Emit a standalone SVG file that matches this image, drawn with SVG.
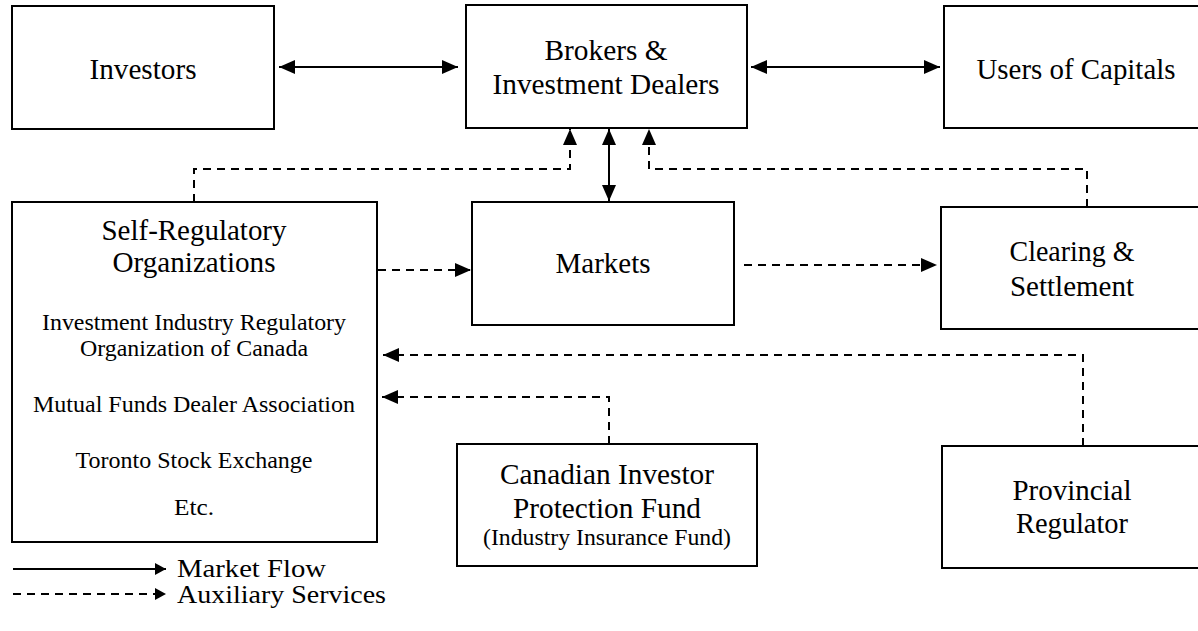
<svg xmlns="http://www.w3.org/2000/svg" width="1198" height="631" viewBox="0 0 1198 631">
  <style>
    .box { fill: #fff; stroke: #000; stroke-width: 2; }
    text { font-family: "Liberation Serif", "DejaVu Serif", "Times New Roman", serif; fill: #000; }
    .lbl { font-size: 29px; text-anchor: middle; }
    .sm { font-size: 24px; }
    .leg { font-size: 25px; }
    .flow { fill: none; stroke: #000; stroke-width: 2; }
    .aux { fill: none; stroke: #000; stroke-width: 2; stroke-dasharray: 8 6; }
  </style>
  <defs>
    <marker id="head" viewBox="0 0 16 14" refX="16" refY="7" markerWidth="16" markerHeight="14" markerUnits="userSpaceOnUse" orient="auto-start-reverse">
      <path d="M0,0 L16,7 L0,14 z" fill="#000"/>
    </marker>
    <marker id="headSmall" viewBox="0 0 11 12" refX="11" refY="6" markerWidth="11" markerHeight="12" markerUnits="userSpaceOnUse" orient="auto">
      <path d="M0,0 L11,6 L0,12 z" fill="#000"/>
    </marker>
  </defs>

  <rect width="1198" height="631" fill="#fff"/>

  <!-- connectors -->
  <g id="connectors">
    <line class="flow" x1="279" y1="67" x2="458" y2="67" marker-start="url(#head)" marker-end="url(#head)"/>
    <line class="flow" x1="751" y1="67" x2="940" y2="67" marker-start="url(#head)" marker-end="url(#head)"/>
    <line class="flow" x1="609" y1="129" x2="609" y2="201" marker-start="url(#head)" marker-end="url(#head)"/>
    <polyline class="aux" points="194,202 194,169 570,169 570,129" marker-end="url(#head)"/>
    <polyline class="aux" points="1087,207 1087,169 649,169 649,129" marker-end="url(#head)"/>
    <line class="aux" x1="378" y1="270" x2="471" y2="270" marker-end="url(#head)"/>
    <line class="aux" x1="744" y1="265" x2="937" y2="265" marker-end="url(#head)"/>
    <polyline class="aux" points="1083,446 1083,355 383,355" marker-end="url(#head)"/>
    <polyline class="aux" points="609,444 609,397 382,397" marker-end="url(#head)"/>
  </g>

  <g id="investors">
    <rect class="box" x="12" y="6" width="262" height="123"/>
    <text class="lbl" x="143" y="79" textLength="107" lengthAdjust="spacingAndGlyphs">Investors</text>
  </g>

  <g id="brokers">
    <rect class="box" x="466" y="5" width="281" height="123"/>
    <text class="lbl" x="606" y="60" textLength="123" lengthAdjust="spacingAndGlyphs">Brokers &amp;</text>
    <text class="lbl" x="606" y="94" textLength="227" lengthAdjust="spacingAndGlyphs">Investment Dealers</text>
  </g>

  <g id="users">
    <rect class="box" x="944" y="6" width="264" height="122"/>
    <text class="lbl" x="1076" y="79" textLength="199" lengthAdjust="spacingAndGlyphs">Users of Capitals</text>
  </g>

  <g id="sro">
    <rect class="box" x="12" y="202" width="365" height="340"/>
    <text class="lbl" x="194" y="240" textLength="185" lengthAdjust="spacingAndGlyphs">Self-Regulatory</text>
    <text class="lbl" x="194" y="272" textLength="163" lengthAdjust="spacingAndGlyphs">Organizations</text>
    <text class="lbl sm" x="194" y="330" textLength="304" lengthAdjust="spacingAndGlyphs">Investment Industry Regulatory</text>
    <text class="lbl sm" x="194" y="356" textLength="228" lengthAdjust="spacingAndGlyphs">Organization of Canada</text>
    <text class="lbl sm" x="194" y="412" textLength="322" lengthAdjust="spacingAndGlyphs">Mutual Funds Dealer Association</text>
    <text class="lbl sm" x="194" y="468" textLength="237" lengthAdjust="spacingAndGlyphs">Toronto Stock Exchange</text>
    <text class="lbl sm" x="194" y="515" textLength="40" lengthAdjust="spacingAndGlyphs">Etc.</text>
  </g>

  <g id="markets">
    <rect class="box" x="472" y="202" width="262" height="123"/>
    <text class="lbl" x="603" y="273" textLength="95" lengthAdjust="spacingAndGlyphs">Markets</text>
  </g>

  <g id="clearing">
    <rect class="box" x="941" y="207" width="263" height="122"/>
    <text class="lbl" x="1072" y="261" textLength="125" lengthAdjust="spacingAndGlyphs">Clearing &amp;</text>
    <text class="lbl" x="1072" y="296" textLength="124" lengthAdjust="spacingAndGlyphs">Settlement</text>
  </g>

  <g id="cipf">
    <rect class="box" x="457" y="444" width="300" height="122"/>
    <text class="lbl" x="607" y="484" textLength="214" lengthAdjust="spacingAndGlyphs">Canadian Investor</text>
    <text class="lbl" x="607" y="518" textLength="188" lengthAdjust="spacingAndGlyphs">Protection Fund</text>
    <text class="lbl sm" x="607" y="545" textLength="248" lengthAdjust="spacingAndGlyphs">(Industry Insurance Fund)</text>
  </g>

  <g id="provincial">
    <rect class="box" x="942" y="446" width="262" height="122"/>
    <text class="lbl" x="1072" y="500" textLength="119" lengthAdjust="spacingAndGlyphs">Provincial</text>
    <text class="lbl" x="1072" y="533" textLength="112" lengthAdjust="spacingAndGlyphs">Regulator</text>
  </g>

  <g id="legend">
    <line class="flow" x1="13" y1="569" x2="166" y2="569" marker-end="url(#headSmall)"/>
    <text class="leg" x="177" y="577" textLength="149" lengthAdjust="spacingAndGlyphs">Market Flow</text>
    <line class="aux" x1="13" y1="594" x2="166" y2="594" stroke-dasharray="7 7" marker-end="url(#headSmall)"/>
    <text class="leg" x="177" y="603" textLength="209" lengthAdjust="spacingAndGlyphs">Auxiliary Services</text>
  </g>
</svg>
